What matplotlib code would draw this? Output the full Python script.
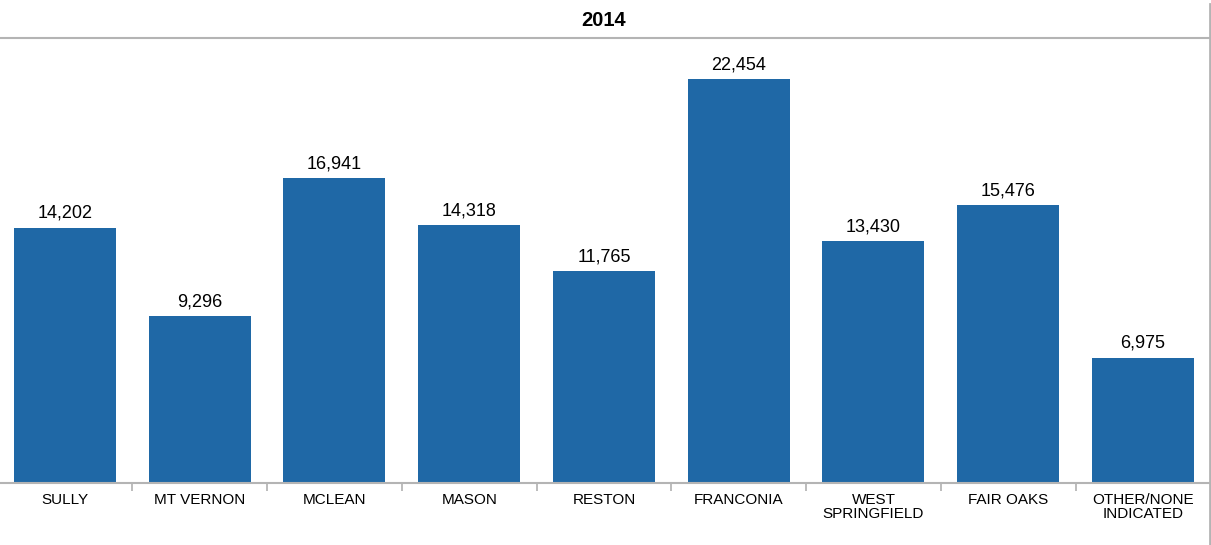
import numpy as np
import matplotlib.pyplot as plt

categories = ['SULLY', 'MT VERNON', 'MCLEAN', 'MASON', 'RESTON', 'FRANCONIA',
              'WEST\nSPRINGFIELD', 'FAIR OAKS', 'OTHER/NONE\nINDICATED']
values = [14202, 9296, 16941, 14318, 11765, 22454, 13430, 15476, 6975]
title = '2014'

plt.rcParams['font.family'] = ['Liberation Sans', 'DejaVu Sans']

W, H = 1211, 545
fig = plt.figure(figsize=(W / 100, H / 100), dpi=100)
ax = fig.add_axes([0, 1 - 483 / H, 1209 / W, (483 - 39) / H])

x = np.arange(len(categories))
ax.bar(x, values, width=0.757, color='#1f68a6')
for xi, v in zip(x, values):
    ax.annotate(f'{v:,}', (xi, v), xytext=(0, 4), textcoords='offset points',
                ha='center', va='bottom', fontsize=13)

ax.set_xlim(-0.482, 8.49)
ax.set_ylim(0, 24680)
ax.set_yticks([])
ax.set_xticks(x)
ax.set_xticklabels(categories, fontsize=11, linespacing=1.05)
ax.tick_params(axis='x', length=0, pad=7)
# separators between categories
ax.set_xticks(np.arange(len(categories) - 1) + 0.5, minor=True)
ax.tick_params(axis='x', which='minor', length=6, color='#b0b0b0', width=1.2, direction='out')

for s in ['top', 'left', 'right']:
    ax.spines[s].set_visible(False)
ax.spines['bottom'].set_color('#b4b4b4')
ax.spines['bottom'].set_linewidth(1.5)

# header line and right border
fig.add_artist(plt.Line2D([0, 1209 / W], [1 - 38 / H, 1 - 38 / H], color='#b4b4b4', lw=1.5))
fig.add_artist(plt.Line2D([1209.5 / W, 1209.5 / W], [0, 1 - 4 / H], color='#b4b4b4', lw=2))
fig.text(604 / W, 1 - 20 / H, title, ha='center', va='center', fontsize=14.5, fontweight='bold')

fig.savefig('out.png', dpi=100)
